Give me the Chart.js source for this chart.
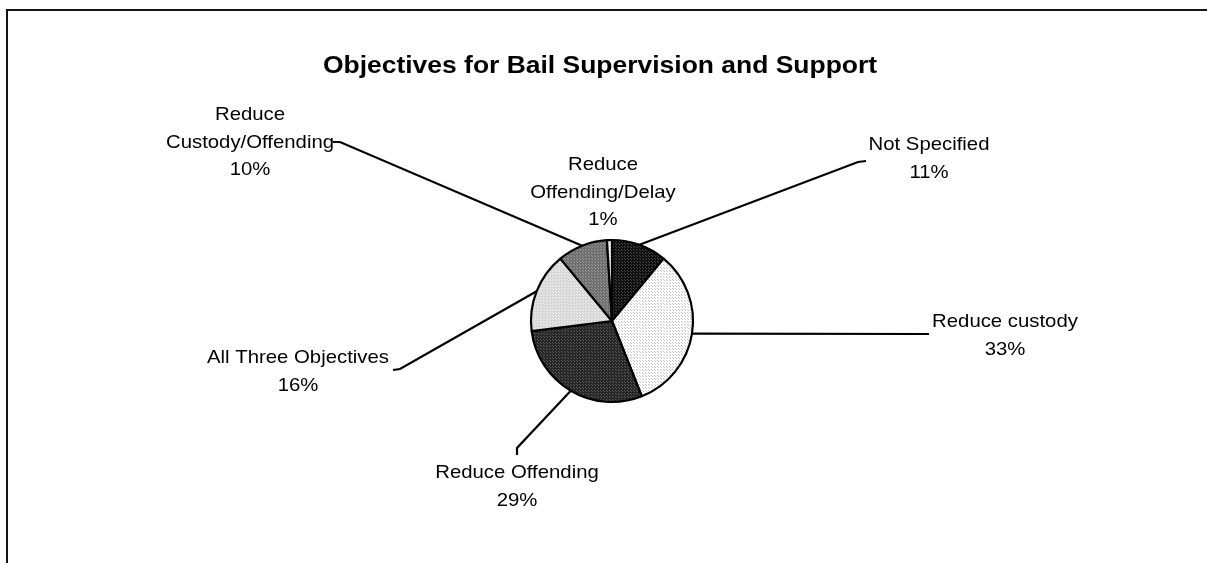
<!DOCTYPE html>
<html>
<head>
<meta charset="utf-8">
<script src="https://cdn.jsdelivr.net/npm/chart.js@4.4.0/dist/chart.umd.min.js"></script>
<style>
  html, body { margin: 0; padding: 0; background: #fff; }
  canvas { display: block; }
</style>
</head>
<body>
<canvas id="bailChart" width="1207" height="563"></canvas>
<script>
// Share of schemes by objective (percent)
const categories = ['Not Specified', 'Reduce custody', 'Reduce Offending', 'All Three Objectives', 'Reduce Custody/Offending', 'Reduce Offending/Delay'];
const shares = [11, 33, 29, 16, 10, 1];
const chartTitle = 'Objectives for Bail Supervision and Support';

// label placement (line-wrapped text, first-line centre, leader path)
const labelLayout = [
    { lines: ['Not Specified'], x: 929, y: 145, path: [[858, 162], [866, 161]] },
    { lines: ['Reduce custody'], x: 1005, y: 322, path: [[929, 334]] },
    { lines: ['Reduce Offending'], x: 517, y: 473, path: [[517, 448], [517, 455]] },
    { lines: ['All Three Objectives'], x: 298, y: 358, path: [[400, 369], [393, 370]] },
    { lines: ['Reduce', 'Custody/Offending'], x: 250, y: 115, path: [[340, 142], [333, 142]] },
    { lines: ['Reduce', 'Offending/Delay'], x: 603, y: 165, path: null }
];

function makePattern(bg, dot, step) {
    const c = document.createElement('canvas');
    c.width = step; c.height = step;
    const g = c.getContext('2d');
    g.fillStyle = bg;
    g.fillRect(0, 0, step, step);
    g.fillStyle = dot;
    g.fillRect(0, 0, 1, 1);
    if (step > 2) g.fillRect(Math.floor(step / 2), Math.floor(step / 2), 1, 1);
    return g.createPattern(c, 'repeat');
}

const fills = [
    makePattern('#0e0e0e', '#4a4a4a', 3),
    makePattern('#ffffff', '#c4c4c4', 3),
    makePattern('#262626', '#5a5a5a', 3),
    makePattern('#d6d6d6', '#f4f4f4', 3),
    makePattern('#6e6e6e', '#9a9a9a', 3),
    makePattern('#e4e4e4', '#ffffff', 3)
];

// the original text is a little wider than plain Arial
function wideText(ctx, t, x, y, sx) {
    ctx.save();
    ctx.translate(x, y);
    ctx.scale(sx, 1);
    ctx.fillText(t, 0, 0);
    ctx.restore();
}

const decor = {
    id: 'decor',
    afterDraw(chart) {
        const ctx = chart.ctx;
        ctx.save();
        // frame
        ctx.strokeStyle = '#151515';
        ctx.lineWidth = 2;
        ctx.beginPath();
        ctx.moveTo(7, 563);
        ctx.lineTo(7, 10);
        ctx.lineTo(1207, 10);
        ctx.stroke();

        // title
        ctx.fillStyle = '#000';
        ctx.font = 'bold 23px "Liberation Sans", Arial, sans-serif';
        ctx.textAlign = 'center';
        ctx.textBaseline = 'middle';
        wideText(ctx, chartTitle, 600, 67, 1.15);

        // labels + leaders
        const arcs = chart.getDatasetMeta(0).data;
        ctx.font = '19px "Liberation Sans", Arial, sans-serif';
        ctx.lineWidth = 2.2;
        ctx.strokeStyle = '#000';
        arcs.forEach((arc, i) => {
            const lay = labelLayout[i];
            const p = arc.getProps(['x', 'y', 'startAngle', 'endAngle', 'outerRadius'], true);
            const mid = (p.startAngle + p.endAngle) / 2;
            if (lay.path) {
                ctx.beginPath();
                ctx.moveTo(p.x + Math.cos(mid) * p.outerRadius, p.y + Math.sin(mid) * p.outerRadius);
                lay.path.forEach(pt => ctx.lineTo(pt[0], pt[1]));
                ctx.stroke();
            }
            const text = lay.lines.concat([shares[i] + '%']);
            text.forEach((t, k) => wideText(ctx, t, lay.x, lay.y + k * 27.5, 1.07));
        });
        ctx.restore();
    }
};

new Chart(document.getElementById('bailChart'), {
    type: 'pie',
    data: {
        labels: categories,
        datasets: [{
            data: shares,
            backgroundColor: fills,
            borderColor: '#000',
            borderWidth: 2.2,
            borderAlign: 'center'
        }]
    },
    options: {
        responsive: false,
        animation: false,
        radius: 81,
        layout: { padding: { left: 400, right: 383, top: 160, bottom: 81 } },
        plugins: {
            legend: { display: false },
            tooltip: { enabled: false },
            title: { display: false }
        }
    },
    plugins: [decor]
});
</script>
</body>
</html>
